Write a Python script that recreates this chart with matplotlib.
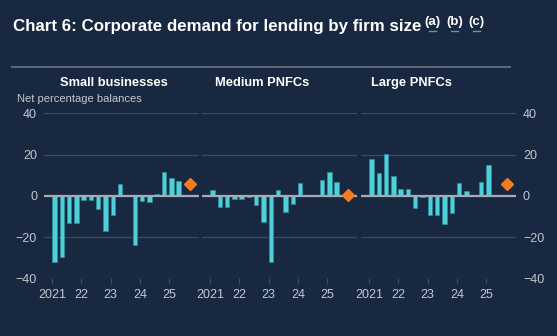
import numpy as np
import matplotlib.pyplot as plt
from matplotlib.lines import Line2D

plt.rcParams['font.family'] = ['Liberation Sans', 'DejaVu Sans']

STYLE = {
    "bg":    "#182840",
    "bar":   "#4fd0d8",
    "edge":  "#2f8f9d",
    "dot":   "#f47b20",
    "grid":  "#3a4a62",
    "zero":  "#a3abb5",
    "text":  "#ffffff",
    "muted": "#c3c8cf",
}

panel_titles = ["Small businesses", "Medium PNFCs", "Large PNFCs"]

# quarterly net balances from 2021 Q1
small_vals = [-32, -29.7, -13.2, -13, -1.8, -1.8, -6.3, -17, -9.5, 5.5,
              0, -23.9, -2.6, -3.2, 1.1, 11.6, 8.4, 7.1]
medium_vals = [2.8, -5.5, -5.5, -1.6, -1.6, -0.6, -4.7, -12.7, -32.3, 2.9,
               -7.9, -4.0, 6.3, 0, 0.5, 7.6, 11.6, 6.6]
large_vals = [17.7, 11.1, 20.3, 9.5, 3.1, 3.4, -6.0, -0.6, -9.5, -9.2,
              -13.9, -8.4, 6.0, 2.4, 0, 6.6, 14.8]

# expected balance for next quarter
expected_x = 2025.72
expected_vals = [5.5, 0.6, 5.8]

tick_years = [2021, 2022, 2023, 2024, 2025]
tick_labels = ["2021", "22", "23", "24", "25"]

series = [small_vals, medium_vals, large_vals]

W, H = 557, 336
fig = plt.figure(figsize=(W / 100, H / 100), dpi=100)
fig.patch.set_facecolor(STYLE["bg"])

lefts = [44, 202, 361]
width_px = 155
bottom = 1 - 278.3 / H
height = (278.3 - 113.3) / H

axes = []
for k, vals in enumerate(series):
    ax = fig.add_axes([lefts[k] / W, bottom, width_px / W, height])
    ax.set_facecolor(STYLE["bg"])
    x = 2021 + 0.25 * np.arange(len(vals))
    for y in [40, 20, -20, -40]:
        ax.axhline(y, color=STYLE["grid"], lw=0.9, zorder=0)
    ax.bar(x, vals, width=0.15, align="edge", color=STYLE["bar"],
           edgecolor=STYLE["edge"], linewidth=0.5, zorder=2)
    ax.axhline(0, color=STYLE["zero"], lw=1.6, zorder=3)
    ax.plot([expected_x], [expected_vals[k]], marker="D", ms=6,
            color=STYLE["dot"], ls="none", zorder=4)
    ax.set_xlim(2020.72, 2026.02)
    ax.set_ylim(-40, 40)
    ax.set_xticks(tick_years)
    ax.set_xticklabels(tick_labels)
    ax.set_yticks([40, 20, 0, -20, -40])
    ax.tick_params(axis="x", colors=STYLE["grid"], labelcolor=STYLE["muted"],
                   labelsize=9, length=4, width=0.9, pad=4)
    ax.tick_params(axis="y", length=0, labelsize=9, labelcolor=STYLE["muted"], pad=5)
    if k == 0:
        ax.tick_params(axis="y", labelleft=True, labelright=False)
    elif k == 2:
        ax.tick_params(axis="y", labelleft=False, labelright=True)
    else:
        ax.tick_params(axis="y", labelleft=False, labelright=False)
    for spine in ax.spines.values():
        spine.set_visible(False)
    axes.append(ax)

# title
fig.text(13 / W, 1 - 27 / H, "Chart 6: Corporate demand for lending by firm size",
         color=STYLE["text"], fontsize=12.15, fontweight="bold", va="center", ha="left")
for lab, xp in zip(["(a)", "(b)", "(c)"], [424, 446, 468]):
    fig.text(xp / W, 1 - 22 / H, lab, color=STYLE["text"], fontsize=9.5,
             fontweight="bold", va="center", ha="left")
    fig.add_artist(Line2D([(xp + 5) / W, (xp + 11.5) / W], [1 - 31 / H, 1 - 31 / H],
                          color="#3fa9b5", lw=1))

# separator
fig.add_artist(Line2D([12 / W, 510 / W], [1 - 67 / H, 1 - 67 / H],
                      color="#5b6679", lw=1.5))

for t, cx in zip(panel_titles, [114, 262, 411]):
    fig.text(cx / W, 1 - 83 / H, t, color=STYLE["text"], fontsize=9.3,
             fontweight="bold", ha="center", va="center")

fig.text(17 / W, 1 - 98.5 / H, "Net percentage balances", color=STYLE["muted"],
         fontsize=8, ha="left", va="center")

plt.savefig("out.png", dpi=100, facecolor=STYLE["bg"])
